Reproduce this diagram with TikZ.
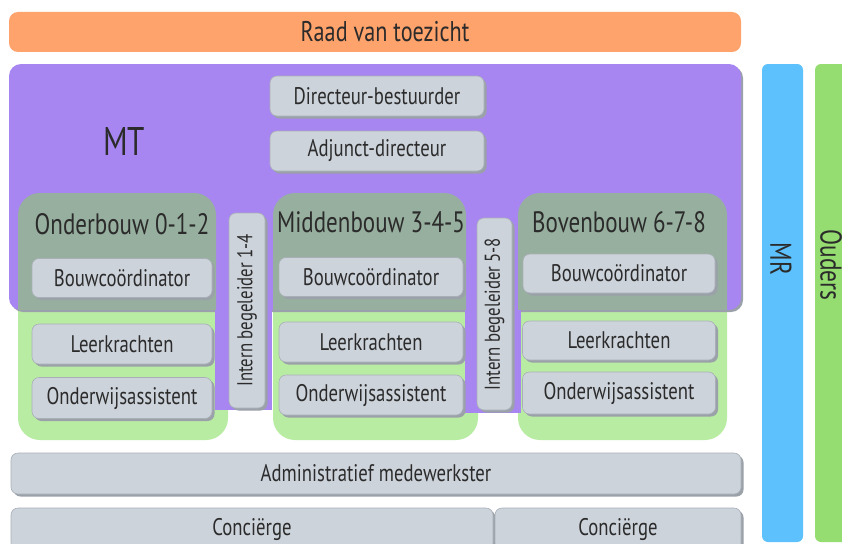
\documentclass[tikz,border=0pt]{standalone}
\usepackage{fontspec}
\setmainfont[FakeStretch=0.78]{PT Sans}
\definecolor{orangec}{HTML}{FFA36C}
\definecolor{purplec}{HTML}{A886F2}
\definecolor{greygreen}{HTML}{97AF9E}
\definecolor{lightgreen}{HTML}{B9ECA3}
\definecolor{boxgrey}{HTML}{CDD3DB}
\definecolor{boxedge}{HTML}{A9AFB7}
\definecolor{boxshadow}{HTML}{9BA1A9}
\definecolor{bluec}{HTML}{5CC1FC}
\definecolor{ogreen}{HTML}{95DC71}
\definecolor{txt}{HTML}{2B2B2B}
\begin{document}
\begin{tikzpicture}[x=1pt,y=-1pt,
  box/.style={fill=boxgrey, draw=boxedge, line width=0.6pt, rounded corners=7pt,
    inner sep=0pt, text=txt, font=\fontsize{24}{24}\selectfont,
    preaction={fill=boxshadow, transform canvas={xshift=2.5pt,yshift=-2.5pt}}},
  head/.style={text=txt, inner sep=0pt, font=\fontsize{29.5}{29.5}\selectfont},
  vbox/.style={box, rotate=90, font=\fontsize{21.5}{21.5}\selectfont},
  side/.style={text=txt, inner sep=0pt, font=\fontsize{30}{30}\selectfont, rotate=-90}
]
\clip (0,0) rectangle (842,543);
\fill[white] (0,0) rectangle (842,543);

% Raad van toezicht
\node[fill=orangec, rounded corners=9pt, minimum width=732pt, minimum height=40pt,
  inner sep=0pt] (raad) at (375,32) {};
\node[text=txt, inner sep=0pt, font=\fontsize{28.5}{28.5}\selectfont] (raadtxt) at (385,32) {Raad van toezicht};

% green groups
\fill[lightgreen, rounded corners=22pt] (18,193) rectangle (228,440);
\fill[lightgreen, rounded corners=22pt] (273,193) rectangle (478,440);
\fill[lightgreen, rounded corners=22pt] (518,193) rectangle (727,440);

% MT region (with shadow)
\fill[boxshadow, rounded corners=12pt] (11,66) rectangle (743,312);
\fill[purplec, rounded corners=12pt] (9,64) rectangle (741,310);
\begin{scope}
  \clip[rounded corners=12pt] (9,64) rectangle (741,310);
  \fill[greygreen, rounded corners=22pt] (18,193) rectangle (216,440);
  \fill[greygreen, rounded corners=22pt] (273,193) rectangle (466,440);
  \fill[greygreen, rounded corners=22pt] (518,193) rectangle (727,440);
\end{scope}
% purple strips behind the intern begeleiders
\fill[purplec] (215,310) rectangle (272,410);
\fill[purplec] (465,310) rectangle (521,413);

\node[text=txt, inner sep=0pt, font=\fontsize{40}{40}\selectfont] (mt) at (124,141) {MT};
\node[box, minimum width=214pt, minimum height=40pt] (dir) at (377,96) {Directeur-bestuurder};
\node[box, minimum width=214pt, minimum height=40pt] (adj) at (377,151) {Adjunct-directeur};

% Onderbouw
\node[head] (ob) at (122,224) {Onderbouw 0-1-2};
\node[box, minimum width=180pt, minimum height=39pt] (bc1) at (122,278) {Bouwcoördinator};
\node[box, minimum width=180pt, minimum height=40pt] (lk1) at (122,344) {Leerkrachten};
\node[box, minimum width=180pt, minimum height=41pt] (oa1) at (122,398) {Onderwijsassistent};
\node[vbox, minimum width=195pt, minimum height=36pt] (ib1) at (247,310.5) {Intern begeleider 1-4};

% Middenbouw
\node[head] (mb) at (371,222) {Middenbouw 3-4-5};
\node[box, minimum width=184pt, minimum height=39pt] (bc2) at (371,277) {Bouwcoördinator};
\node[box, minimum width=184pt, minimum height=40pt] (lk2) at (371,342) {Leerkrachten};
\node[box, minimum width=184pt, minimum height=40pt] (oa2) at (371,395) {Onderwijsassistent};
\node[vbox, minimum width=192pt, minimum height=35pt] (ib2) at (494.5,314) {Intern begeleider 5-8};

% Bovenbouw
\node[head] (bb) at (619,222) {Bovenbouw 6-7-8};
\node[box, minimum width=192pt, minimum height=39pt] (bc3) at (619,273.5) {Bouwcoördinator};
\node[box, minimum width=193pt, minimum height=39pt] (lk3) at (619,340.5) {Leerkrachten};
\node[box, minimum width=193pt, minimum height=42pt] (oa3) at (619,393) {Onderwijsassistent};

% bottom rows
\node[box, minimum width=730pt, minimum height=41pt] (adm) at (376,473.5) {Administratief medewerkster};
\node[box, minimum width=482pt, minimum height=42pt] (c1) at (252,529) {Conciërge};
\node[box, minimum width=246pt, minimum height=42pt] (c2) at (618,529) {Conciërge};

% MR and Ouders
\fill[bluec, rounded corners=6pt] (762,64) rectangle (803,542);
\node[side] (mr) at (781,259) {MR};
\fill[ogreen, rounded corners=6pt] (815,64) rectangle (860,542);
\node[side] (ouders) at (831,265) {Ouders};
\end{tikzpicture}
\end{document}
